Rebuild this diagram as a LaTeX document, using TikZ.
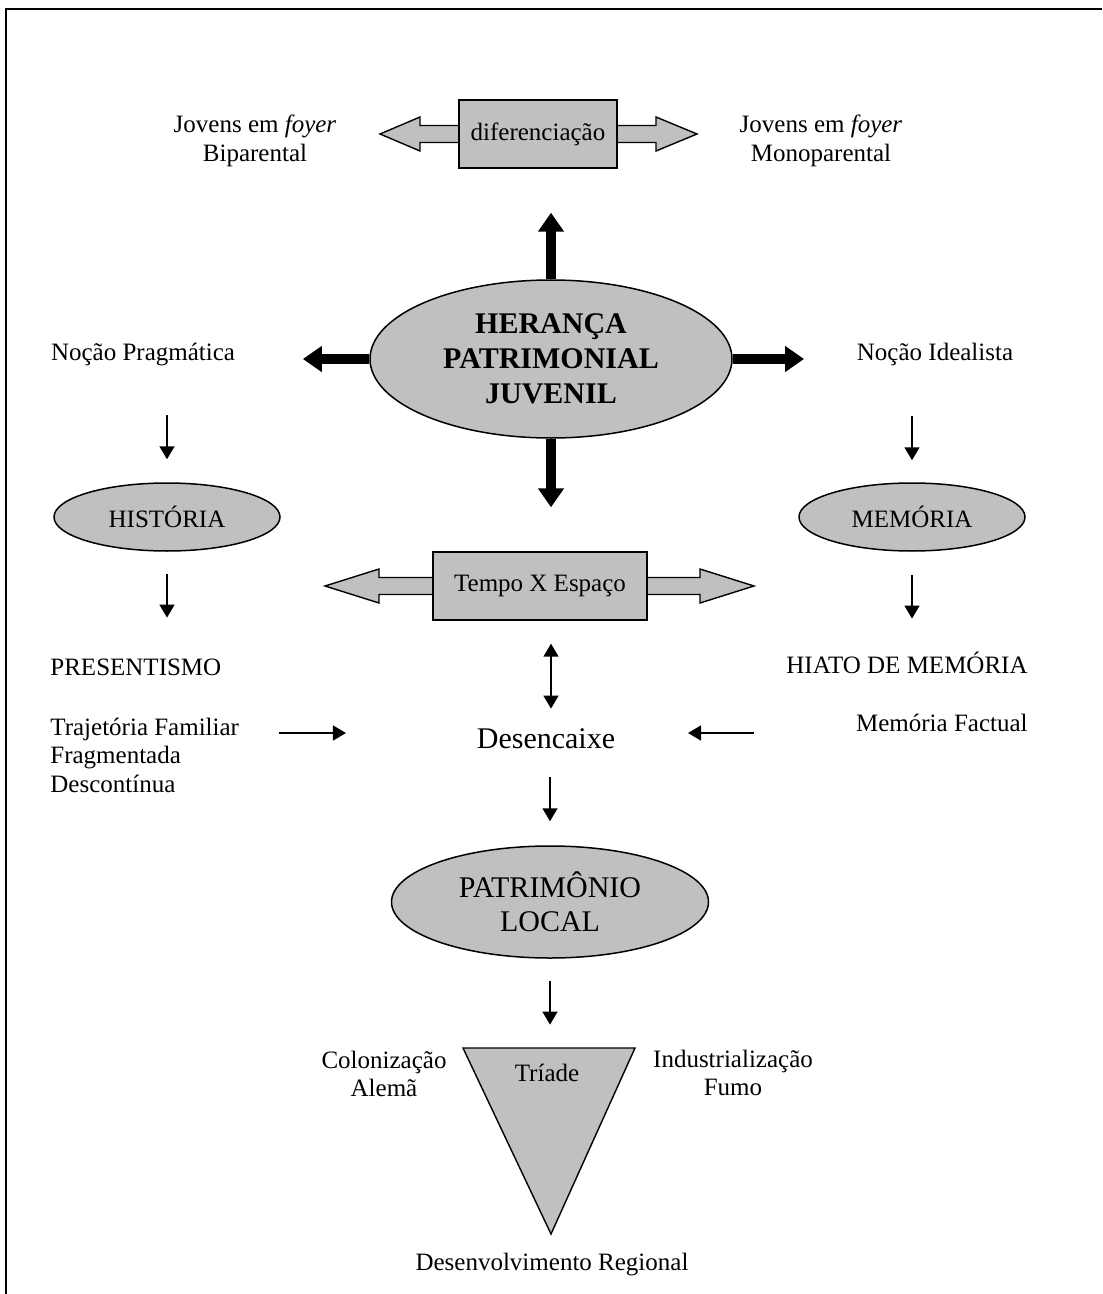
\documentclass[tikz,border=0pt]{standalone}
\usepackage{fontspec}
\setmainfont{Liberation Serif}
\usepackage{tikz}
\usetikzlibrary{
  shapes,
  arrows.meta,
  positioning,
  backgrounds,  % Layer for the grey arrow shapes
  calc,
}
\definecolor{shapegray}{RGB}{192,192,192}
\def\mysmall{\fontsize{12.5}{14.25}\selectfont}
\def\mylarge{\fontsize{15}{17.5}\selectfont}
\tikzset{
  font=\mysmall,
  >={Triangle[length=6.5pt,width=7.5pt]},
  txt/.style={
    inner sep=0pt,
    text height=9pt,
    text depth=3pt
  },
  txt multi/.style={
    inner sep=0pt,
    align=center
  },
  my ellipse/.style={
    draw,
    fill=shapegray,
    line width=0.75pt,
    ellipse,
    inner sep=0pt,
    align=center
  },
  my box/.style={
    draw,
    fill=shapegray,
    line width=0.7pt,
    rectangle,
    inner sep=0pt,
    minimum height=34pt
  },
  gray shape/.style={
    draw,
    fill=shapegray,
    line width=0.7pt
  },
  thin arrow/.style={
    ->,
    line width=0.75pt
  },
  bold arrow/.style={
    line width=5pt,
    -{Triangle[length=9.5pt,width=12.5pt]}
  },
  frame/.style={
    line width=1.2pt
  }
}

\begin{document}
\begin{tikzpicture}[x=0.5pt,y=-0.5pt]
\useasboundingbox (0,0) rectangle (1102,1294);
\draw[frame] (1102,9) -- (6,9) -- (6,1294);
% top
\node[my box,minimum width=79pt] (dif) at (538,134) {diferenciação};
\node[txt multi] (jovB) at (255,141) {Jovens em \textit{foyer}\\Biparental};
\node[txt multi] (jovM) at (821,141) {Jovens em \textit{foyer}\\Monoparental};
% centre
\node[my ellipse,minimum width=181pt,minimum height=79pt,font=\mylarge\bfseries]
  (her) at (551,359) {HERANÇA\\PATRIMONIAL\\JUVENIL};
\node[txt] (nocP) at (143,354) {Noção Pragmática};
\node[txt] (nocI) at (935,354) {Noção Idealista};
\node[my ellipse,minimum width=113pt,minimum height=34pt] (hist) at (167,517) {HISTÓRIA};
\node[my ellipse,minimum width=113pt,minimum height=34pt] (mem) at (912,517) {MEMÓRIA};
\node[my box,minimum width=107pt] (tempo) at (540,586) {Tempo X Espaço};
\node[txt,anchor=west] (pres) at (50,669) {PRESENTISMO};
\node[txt,anchor=east] (hiato) at (1028,667) {HIATO DE MEMÓRIA};
\node[txt multi,align=left,anchor=west] (traj) at (50,755)
  {Trajetória Familiar\\Fragmentada\\Descontínua};
\node[txt,anchor=east] (memF) at (1028,725) {Memória Factual};
\node[txt,font=\mylarge] (desenc) at (546,742) {Desencaixe};
% bottom
\node[my ellipse,minimum width=158.5pt,minimum height=56pt,font=\fontsize{15}{17}\selectfont]
  (patr) at (550,902) {PATRIMÔNIO\\LOCAL};
\node[txt] (triade) at (547,1075) {Tríade};
\node[txt multi] (colon) at (384,1074) {Colonização\\Alemã};
\node[txt multi] (indus) at (733,1073) {Industrialização\\Fumo};
\node[txt] (desenv) at (552,1264) {Desenvolvimento Regional};
\begin{scope}[on background layer]
\draw[gray shape] (dif.center) ++(-158,0) -- ++(40,-17) -- ++(0,8.5) -- ++(236,0)
  -- ++(0,-8.5) -- ++(41,17) -- ++(-41,17) -- ++(0,-8.5) -- ++(-236,0) -- ++(0,8.5) -- cycle;
\draw[gray shape] (tempo.center) ++(-215,0) -- ++(54,-17) -- ++(0,8.5) -- ++(321,0)
  -- ++(0,-8.5) -- ++(54,17) -- ++(-54,17) -- ++(0,-8.5) -- ++(-321,0) -- ++(0,8.5) -- cycle;
\draw[gray shape] (triade.center) ++(-84,-27) -- ++(172,0) -- ++(-84,186) -- cycle;
\end{scope}
% arrows
\draw[bold arrow,shorten >=22pt] (her.north) -- (her.north |- dif.south);
\draw[bold arrow,shorten >=22pt] (her.south) -- (her.south |- tempo.north);
\draw[bold arrow,shorten >=33.75pt] (her.west) -- (her.west -| nocP.east);
\draw[bold arrow,shorten >=26.25pt] (her.east) -- (her.east -| nocI.west);
\draw[thin arrow,shorten <=24.5pt,shorten >=11.5pt] (nocP.south -| hist.north) -- (hist.north);
\draw[thin arrow,shorten <=11pt,shorten >=19.5pt] (hist.south) -- (hist.south |- pres.north);
\draw[thin arrow,shorten <=25pt,shorten >=11pt] (nocI.south -| mem.north) -- (mem.north);
\draw[thin arrow,shorten <=11.5pt,shorten >=18pt] (mem.south) -- (mem.south |- hiato.north);
\draw[thin arrow,<->,shorten <=11.5pt,shorten >=10.5pt]
  (her.south |- tempo.south) -- (her.south |- desenc.north);
\draw[thin arrow,shorten <=11.5pt,shorten >=12pt] (patr.north |- desenc.south) -- (patr.north);
\draw[thin arrow,shorten <=11pt,shorten >=19pt] (patr.south) -- (patr.south |- triade.north);
\draw[thin arrow,shorten <=20pt,shorten >=65.25pt]
  ($(traj.east |- desenc.west)+(0,-9)$) -- ($(desenc.west)+(0,-9)$);
\draw[thin arrow,shorten <=50.75pt,shorten >=36.25pt]
  ($(memF.west |- desenc.east)+(0,-9)$) -- ($(desenc.east)+(0,-9)$);
\end{tikzpicture}
\end{document}
